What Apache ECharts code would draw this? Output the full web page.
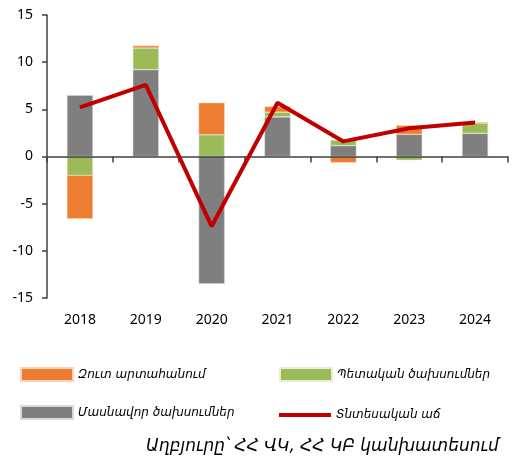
<!DOCTYPE html>
<html>
<head>
<meta charset="utf-8">
<script src="https://cdn.jsdelivr.net/npm/echarts@6/dist/echarts.min.js"></script>
<style>
  html, body { margin: 0; padding: 0; background: #fff; }
  #chart { width: 517px; height: 466px; }
</style>
</head>
<body>
<div id="chart"></div>
<script>
var years = ['2018', '2019', '2020', '2021', '2022', '2023', '2024'];
var privateSpend = [6.5, 9.2, -13.5, 4.2, 1.15, 2.35, 2.45];
var govSpend = [-2.0, 2.3, 2.3, 0.5, 0.6, -0.4, 1.1];
var netExport = [-4.6, 0.25, 3.4, 0.6, -0.65, 0.95, 0.1];
var growth = [5.2, 7.6, -7.4, 5.7, 1.6, 3.0, 3.6];

var names = ['Զուտ արտահանում', 'Պետական ծախսումներ', 'Մասնավոր ծախսումներ', 'Տնտեսական աճ'];

var armFont = '"DejaVu Sans", "Noto Sans", sans-serif';
var legendText = { fontFamily: armFont, fontStyle: 'italic', fontSize: 12, color: '#000' };

function legendAt(name, left, top, h) {
  return {
    data: [name],
    left: left,
    top: top,
    icon: 'rect',
    itemWidth: 52,
    itemHeight: h,
    itemGap: 0,
    selectedMode: false,
    textStyle: legendText,
    padding: 0
  };
}

var chart = echarts.init(document.getElementById('chart'));
chart.setOption({
  animation: false,
  grid: { left: 47, right: 9, top: 15, bottom: 168, outerBoundsMode: 'none', containLabel: false },
  legend: [
    legendAt(names[0], 20, 367, 13),
    legendAt(names[1], 279, 367, 13),
    legendAt(names[2], 20, 405, 13),
    legendAt(names[3], 279, 409, 4)
  ],
  graphic: [{
    type: 'text',
    left: 146,
    top: 438,
    style: {
      text: 'Աղբյուրը՝ ՀՀ ՎԿ, ՀՀ ԿԲ կանխատեսում',
      font: 'italic 17px ' + armFont,
      fill: '#000'
    }
  }],
  xAxis: {
    type: 'category',
    data: years,
    z: 4,
    axisLine: { onZero: true, lineStyle: { color: '#404040', width: 1.5 } },
    axisTick: { show: true, length: 6, lineStyle: { color: '#404040', width: 1.5 } },
    axisLabel: { fontFamily: 'Noto Sans', fontSize: 14, color: '#000', margin: 15 }
  },
  yAxis: {
    type: 'value',
    min: -15,
    max: 15,
    interval: 5,
    z: 4,
    splitLine: { show: false },
    axisLine: { show: true, lineStyle: { color: '#404040', width: 1.5 } },
    axisTick: { show: true, length: 5, lineStyle: { color: '#404040', width: 1.5 } },
    axisLabel: { fontFamily: 'Noto Sans', fontSize: 14, color: '#000', margin: 14 }
  },
  series: [{
    name: names[2],
    type: 'bar',
    stack: 'total',
    data: privateSpend,
    barWidth: 26,
    itemStyle: { color: '#7f7f7f', borderColor: '#d9d9d9', borderWidth: 0.5 }
  }, {
    name: names[1],
    type: 'bar',
    stack: 'total',
    data: govSpend,
    barWidth: 26,
    itemStyle: { color: '#9bbb59', borderColor: '#e4eed0', borderWidth: 0.5 }
  }, {
    name: names[0],
    type: 'bar',
    stack: 'total',
    data: netExport,
    barWidth: 26,
    itemStyle: { color: '#ed7d31', borderColor: '#f8d4bb', borderWidth: 0.5 }
  }, {
    name: names[3],
    type: 'line',
    data: growth,
    symbol: 'none',
    z: 5,
    itemStyle: { color: '#c00000' },
    lineStyle: { color: '#c00000', width: 4 }
  }]
});
</script>
</body>
</html>
